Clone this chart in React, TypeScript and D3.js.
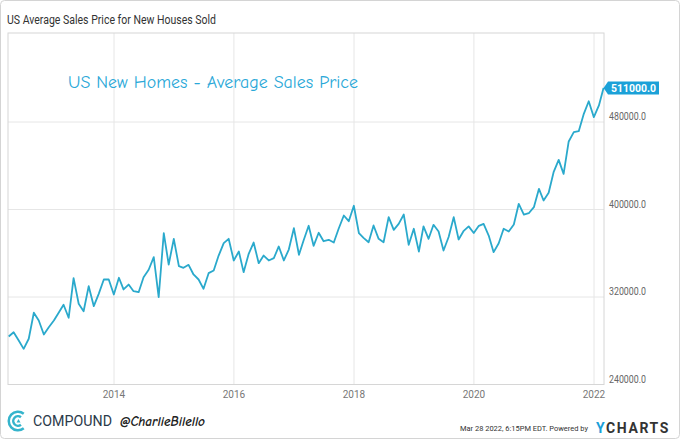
import React from "react";
import * as d3 from "d3";

// Monthly average sales price, US new houses sold, Mar 2012 .. Feb 2022
const startYear = 2012;
const startMonth = 2; // March (0-based)
const values: number[] = [
  283900, 287800, 280200, 272600, 281800, 305600, 298500, 285700, 292400, 298500,
  306100, 312900, 301000, 337200, 313800, 307000, 329900, 311600, 322900, 336000,
  336000, 322300, 337600, 326900, 331400, 325300, 324400, 338100, 344900, 356400,
  319800, 378300, 349700, 373200, 348200, 346700, 349400, 340600, 336000, 327500,
  341800, 344200, 357900, 369200, 373200, 353400, 361600, 342700, 359500, 369800,
  350900, 357900, 353400, 355500, 366200, 353400, 363400, 382900, 358600, 371700,
  385100, 366800, 378700, 371000, 372300, 369800, 382600, 394500, 389300, 403400,
  378300, 374100, 370100, 385400, 373200, 370100, 393000, 381400, 386900, 395400,
  367700, 382400, 361600, 384500, 373200, 386000, 379900, 362500, 374900, 393000,
  372600, 380500, 384600, 378500, 385100, 386900, 376200, 361000, 369200, 382400,
  379900, 386300, 405200, 395400, 396600, 402100, 418900, 408200, 415300, 434100,
  445400, 432600, 462200, 470700, 471600, 487500, 499000, 484400, 495100, 511000,
];
const yTicks = [240000, 320000, 400000, 480000];
const xTickYears = [2014, 2016, 2018, 2020, 2022];

const title = "US Average Sales Price for New Houses Sold";
const annotation = "US New Homes - Average Sales Price";
const footerDate = "Mar 28 2022, 6:15PM EDT.  Powered by";

const dates = values.map((_, i) => new Date(startYear, startMonth + i + 1, 0));

const plot = { left: 8, right: 604, top: 33, bottom: 384.5 };

export default function App() {
  const x = d3
    .scaleTime()
    .domain([new Date(2014, 0, 1), new Date(2022, 0, 1)])
    .range([114, 594]);
  const y = d3.scaleLinear().domain([240000, 480000]).range([384.5, 122]);

  const line = d3
    .line<number>()
    .x((_, i) => x(dates[i]))
    .y((d) => y(d));

  const last = values[values.length - 1];
  const lastY = y(last);
  const lastX = x(dates[dates.length - 1]);

  const fontUI = "Roboto, 'Liberation Sans', sans-serif";
  const fontHand = "'Comic Sans MS', 'Comic Neue', 'Open Sans', sans-serif";

  return (
    <svg
      width={680}
      height={439}
      style={{ position: "absolute", left: 0, top: 0, background: "#fff" }}
    >
      <rect x={0.5} y={0.5} width={679} height={438} rx={4} fill="#fff" stroke="#d4d4d4" />
      <text x={7} y={24} fontFamily={fontUI} fontSize={12} fill="#333" textLength={209} lengthAdjust="spacingAndGlyphs">
        {title}
      </text>

      {/* grid */}
      {xTickYears.map((yr) => (
        <line key={yr} x1={x(new Date(yr, 0, 1))} x2={x(new Date(yr, 0, 1))} y1={plot.top} y2={plot.bottom} stroke="#e6e6e6" />
      ))}
      {yTicks.map((t) => (
        <line key={t} x1={plot.left} x2={plot.right} y1={y(t)} y2={y(t)} stroke="#e6e6e6" />
      ))}
      <rect x={plot.left} y={plot.top} width={plot.right - plot.left} height={plot.bottom - plot.top} fill="none" stroke="#d6d6d6" />

      {/* axis labels */}
      {yTicks.map((t) => (
        <text key={t} x={609} y={y(t) - 2} fontFamily={fontUI} fontSize={10} fill="#666" textLength={37} lengthAdjust="spacingAndGlyphs">
          {t.toFixed(1)}
        </text>
      ))}
      {xTickYears.map((yr) => (
        <text key={yr} x={x(new Date(yr, 0, 1))} y={398} textAnchor="middle" fontFamily={fontUI} fontSize={10} fill="#777">
          {yr}
        </text>
      ))}

      {/* series */}
      <path d={line(values) || ""} fill="none" stroke="#2aa9cc" strokeWidth={1.8} strokeLinejoin="round" />

      {/* annotation */}
      <text x={68} y={88} fontFamily={fontHand} fontSize={17} fill="#2aa8d8" textLength={290} lengthAdjust="spacingAndGlyphs">
        {annotation}
      </text>

      {/* last value badge */}
      <path
        d={`M${lastX} ${lastY} L${lastX + 4.5} ${lastY - 6.5} L659 ${lastY - 6.5} L659 ${lastY + 6.5} L${lastX + 4.5} ${lastY + 6.5} Z`}
        fill="#1ba1d8"
      />
      <text x={611} y={lastY + 3.5} fontFamily={fontUI} fontSize={10} fontWeight="bold" fill="#fff" textLength={45} lengthAdjust="spacingAndGlyphs">
        {last.toFixed(1)}
      </text>

      {/* footer left: Compound logo */}
      <g transform="translate(18,421)">
        <path d={d3.arc()({ innerRadius: 8, outerRadius: 10.5, startAngle: 0.9, endAngle: 2 * Math.PI - 0.9 }) || ""} transform="rotate(90)" fill="#35b4cc" />
        <path d={d3.arc()({ innerRadius: 3.5, outerRadius: 6, startAngle: 0.9, endAngle: 2 * Math.PI - 0.9 }) || ""} transform="rotate(90)" fill="#35b4cc" />
        <path d="M-1.5 1.5 L0.5 -2 L2.5 1.5 Z" fill="#35b4cc" />
      </g>
      <text x={33} y={426} fontFamily={fontUI} fontSize={14} fill="#2b3a4a" textLength={79} lengthAdjust="spacingAndGlyphs">
        COMPOUND
      </text>
      <text x={120} y={426} fontFamily={fontHand} fontSize={13} fontWeight="bold" fontStyle="italic" fill="#222" textLength={85} lengthAdjust="spacingAndGlyphs">
        @CharlieBilello
      </text>

      {/* footer right */}
      <text x={460} y={431} fontFamily={fontUI} fontSize={8} fill="#333" textLength={128} lengthAdjust="spacingAndGlyphs">
        {footerDate}
      </text>
      <text x={596} y={433} fontFamily={fontUI} fontSize={14} fontWeight="bold" letterSpacing={1.6}>
        <tspan fill="#1a9fd9">Y</tspan>
        <tspan fill="#333">CHARTS</tspan>
      </text>
    </svg>
  );
}
